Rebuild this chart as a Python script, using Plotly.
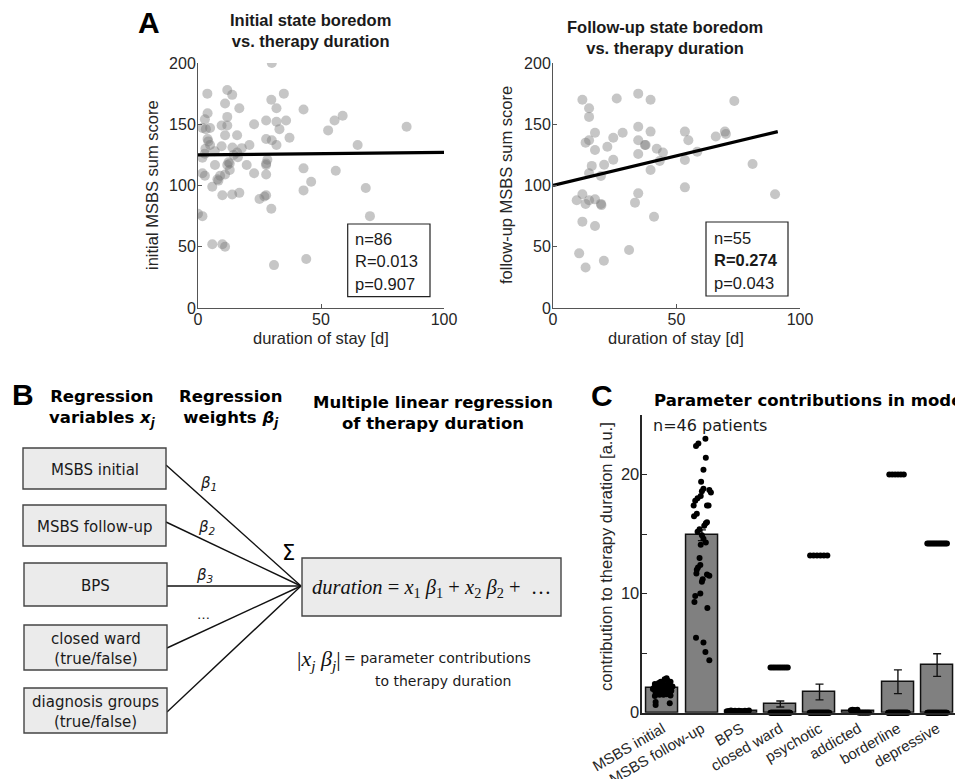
import numpy as np
import plotly.graph_objects as go

# The page body adds an 8px margin, so the figure is sized to fit the window.
OFF = 8
W, H = 963 - OFF, 779 - OFF

# ---------------- Panel A data ----------------
init_dur = [3.8, 11.9, 13.9, 11.0, 16.8, 3.9, 2.8, 11.9, 9.6, 11.9, 1.8, 4.9, 3.2, 22.8,
            27.7, 31.9, 35.8, 33.1, 29.8, 34.9, 31.9, 42.9, 30.0, 3.9, 11.0, 15.9, 27.7,
            30.0, 37.2, 4.9, 9.6, 14.0, 17.8, 20.9, 31.9, 2.8, 6.8, 15.9, 1.8, 16.2, 6.9,
            11.9, 12.9, 19.8, 27.7, 27.7, 42.9, 1.8, 2.8, 12.9, 22.8, 27.7, 11.0, 9.0,
            7.9, 5.8, 46.0, 42.9, 9.9, 13.9, 16.8, 25.0, 27.0, 27.7, 29.8, 0.0, 1.8, 5.8,
            9.9, 11.0, 44.0, 30.9, 58.8, 55.5, 52.9, 84.8, 64.9, 56.0, 68.2, 69.9, 4.2,
            12.4, 28.2, 3.0, 14.5, 8.3]
init_msbs = [175, 178, 174, 167, 163, 159, 154, 156, 149, 149, 147, 147, 146, 150,
             153, 152, 153, 146, 170, 175, 163, 162, 200, 138, 141, 141, 138,
             137, 139, 133, 132, 131, 130.5, 133, 133, 126, 128, 127, 122.7, 123, 116.7,
             116.7, 118, 116.7, 118, 116.7, 114, 110, 108, 112.6, 110, 109, 109, 108,
             105, 99, 103, 96, 92, 92.6, 94, 89, 91, 92, 81, 77, 75, 52,
             52, 50, 40, 35, 157, 153, 145, 148, 133, 112, 98, 75, 136,
             119, 121, 130, 125, 104]
init_fit_x = [0, 100]
init_fit_y = [125.0, 127.0]

fu_dur = [11.9, 25.8, 34.5, 39.5, 14.6, 14.6, 17.0, 28.2, 34.5, 39.5, 13.2, 14.6, 24.4,
          34.5, 37.2, 17.0, 22.0, 42.0, 44.5, 34.5, 43.2, 24.4, 15.7, 20.7, 39.5, 14.6,
          19.4, 11.9, 34.5, 9.6, 13.2, 17.0, 14.6, 19.4, 33.2, 40.9, 11.9, 17.0, 30.8,
          10.6, 20.6, 13.2, 73.4, 53.4, 54.8, 65.9, 69.6, 70.0, 58.4, 53.4, 80.8, 53.4,
          89.9, 37.5, 19.6]
fu_msbs = [170, 171, 175, 170, 163, 156, 143, 143, 148, 144, 135, 137, 139,
           137, 133, 129, 131.7, 130, 127, 125.7, 120, 121, 116, 117, 112.6, 110,
           107.8, 92.8, 93.6, 88, 85, 88.7, 88, 85, 86, 74.5, 70.5, 67, 47.3,
           44.6, 38.6, 33, 169, 144, 137, 140, 144, 142, 127.6, 120.8, 117.6, 98.5,
           92.8, 133, 84]
fu_fit_x = [0, 91]
fu_fit_y = [100.0, 144.0]

stats_init = ["n=86", "R=0.013", "p=0.907"]
stats_fu = ["n=55", "<b>R=0.274</b>", "p=0.043"]

# ---------------- Panel C data ----------------
categories = ["MSBS initial", "MSBS follow-up", "BPS", "closed ward", "psychotic",
              "addicted", "borderline", "depressive"]
bar_means = [2.05, 14.9, 0.15, 0.73, 1.74, 0.12, 2.6, 4.0]
bar_sem = [0.1, 0.45, 0.02, 0.25, 0.66, 0.03, 1.0, 0.95]

msbs_init_vals = [2.9, 2.8, 2.7, 2.6, 2.6, 2.5, 2.5, 2.4, 2.4, 2.3, 2.3, 2.2, 2.2, 2.1,
                  2.1, 2.0, 2.0, 1.95, 1.9, 1.9, 1.85, 1.8, 1.8, 1.75, 1.7, 1.7, 1.65,
                  1.6, 1.6, 1.55, 1.5, 1.5, 1.45, 1.4, 0.9, 0.8, 0.65, 2.0, 2.2]
msbs_init_jit = [0.1, 0.05, 0.12, -0.05, 0.2, -0.1, 0.15, 0.0, -0.2, 0.08, -0.15, 0.2,
                 -0.05, 0.1, -0.22, 0.0, 0.18, -0.12, 0.08, -0.2, 0.22, 0.02, -0.1, 0.14,
                 -0.18, 0.06, -0.04, 0.18, -0.14, 0.1, -0.08, 0.02, 0.2, -0.2, -0.18,
                 0.18, -0.18, -0.25, 0.25]
msbs_fu_vals = [23.0, 22.6, 22.4, 21.4, 20.4, 19.4, 18.8, 18.7, 18.5, 18.2, 18.0, 17.8,
                17.4, 17.4, 17.4, 16.7, 16.5, 15.9, 15.7, 15.4, 15.2, 14.9, 14.6, 14.1,
                13.0, 12.4, 12.2, 11.7, 11.6, 11.5, 11.2, 11.0, 9.8, 9.3, 8.8, 6.3, 5.9,
                5.1, 4.4, 12.0, 14.3, 16.0, 18.6, 10.0]
msbs_fu_jit = [0.09, -0.09, -0.15, 0.1, 0.04, -0.02, 0.04, 0.19, 0.23, -0.03, -0.11,
               -0.17, -0.21, 0.13, 0.17, -0.13, -0.2, 0.1, 0.06, -0.06, -0.11, 0.0, 0.04,
               -0.03, -0.06, -0.04, -0.1, -0.14, 0.13, 0.19, 0.02, 0.0, -0.17, -0.19,
               0.14, -0.15, 0.04, 0.09, 0.19, -0.13, 0.1, 0.13, 0.0, -0.04]
bps_vals = [0.12, 0.15, 0.18, 0.14, 0.16, 0.13, 0.17, 0.15, 0.12, 0.16, 0.14, 0.18]
addicted_vals = [0.2, 0.25, 0.22, 0.18, 0.24, 0.0, 0.0, 0.0, 0.0, 0.0, 0.0, 0.0]
# binary groups: (nonzero level, patients at level, patients at zero)
closed_level, closed_n1, closed_n0 = 3.8, 9, 37
psych_level, psych_n1, psych_n0 = 13.2, 6, 40
border_level, border_n1, border_n0 = 20.0, 6, 40
depr_level, depr_n1, depr_n0 = 14.2, 13, 33

fig = go.Figure()

def P(x):
    return (x - OFF) / W

def Q(y):
    return 1 - (y - OFF) / H

scatter_col = "rgba(120,120,120,0.42)"
# Panel A left
fig.add_trace(go.Scatter(x=init_dur, y=init_msbs, mode="markers", xaxis="x", yaxis="y",
                         marker=dict(size=10, color=scatter_col, line=dict(width=0)),
                         showlegend=False))
fig.add_trace(go.Scatter(x=init_fit_x, y=init_fit_y, mode="lines", xaxis="x", yaxis="y",
                         line=dict(color="black", width=3.2), showlegend=False))
# Panel A right
fig.add_trace(go.Scatter(x=fu_dur, y=fu_msbs, mode="markers", xaxis="x2", yaxis="y2",
                         marker=dict(size=10, color=scatter_col, line=dict(width=0)),
                         showlegend=False))
fig.add_trace(go.Scatter(x=fu_fit_x, y=fu_fit_y, mode="lines", xaxis="x2", yaxis="y2",
                         line=dict(color="black", width=3.2), showlegend=False))

# Panel C bars
cat_idx = list(range(len(categories)))
fig.add_trace(go.Bar(x=cat_idx, y=bar_means, xaxis="x3", yaxis="y3", width=0.82,
                     marker=dict(color="#808080", line=dict(color="#111111", width=1.5)),
                     error_y=dict(type="data", array=bar_sem, color="#111111",
                                  thickness=1.4, width=4),
                     showlegend=False))

dot_x, dot_y = [], []
for v, j in zip(msbs_init_vals, msbs_init_jit):
    dot_x.append(0 + j); dot_y.append(v)
for v, j in zip(msbs_fu_vals, msbs_fu_jit):
    dot_x.append(1 + j); dot_y.append(v)
for k, v in enumerate(bps_vals):
    dot_x.append(2 + np.linspace(-0.36, 0.2, len(bps_vals))[k]); dot_y.append(v)
for k, v in enumerate(addicted_vals):
    dot_x.append(5 + np.linspace(-0.2, 0.26, len(addicted_vals))[k]); dot_y.append(v)

def streak(ci, level, n1, n0, lo, hi):
    for o in np.linspace(lo, hi, n1):
        dot_x.append(ci + o); dot_y.append(level)
    for o in np.linspace(-0.25, 0.25, n0):
        dot_x.append(ci + o); dot_y.append(0.0)

streak(3, closed_level, closed_n1, closed_n0, -0.25, 0.19)
streak(4, psych_level, psych_n1, psych_n0, -0.24, 0.2)
streak(6, border_level, border_n1, border_n0, -0.22, 0.15)
streak(7, depr_level, depr_n1, depr_n0, -0.25, 0.25)

fig.add_trace(go.Scatter(x=dot_x, y=dot_y, mode="markers", xaxis="x3", yaxis="y3",
                         marker=dict(size=6, color="black"), showlegend=False,
                         cliponaxis=False))

AX = "#555555"
TF = dict(family="Liberation Sans, Arial", size=16, color="#262626")
axA = dict(showline=True, linecolor=AX, linewidth=1, ticks="inside", ticklen=4,
           tickcolor=AX, tickfont=TF, showgrid=False, zeroline=False, mirror=False,
           automargin=False)

fig.update_layout(
    width=W, height=H, margin=dict(l=0, r=0, t=0, b=0, pad=0),
    paper_bgcolor="white", plot_bgcolor="white", bargap=0,
    xaxis=dict(domain=[P(198), P(444)], range=[0, 100], tickvals=[0, 50, 100],
               anchor="y", ticklabelstandoff=-3, **axA),
    yaxis=dict(domain=[Q(308), Q(63)], range=[0, 200], tickvals=[0, 50, 100, 150, 200],
               anchor="x", ticklabelstandoff=-2, **axA),
    xaxis2=dict(domain=[P(553), P(800)], range=[0, 100], tickvals=[0, 50, 100],
                anchor="y2", ticklabelstandoff=-3, **axA),
    yaxis2=dict(domain=[Q(308), Q(63)], range=[0, 200], tickvals=[0, 50, 100, 150, 200],
                anchor="x2", ticklabelstandoff=-2, **axA),
    xaxis3=dict(domain=[P(642.3), 1.0], range=[-0.52, 7.66], tickvals=cat_idx,
                ticktext=categories, tickangle=-30, showline=True, linecolor="#262626",
                linewidth=1.5, ticks="", tickfont=dict(family="Liberation Sans, Arial",
                                                        size=15, color="#262626"),
                showgrid=False, zeroline=False, anchor="y3", automargin=False),
    yaxis3=dict(domain=[Q(712.7), Q(415)], range=[0, 25], tickvals=[0, 10, 20],
                showline=True, linecolor="#262626", linewidth=1.5, ticks="inside",
                ticklen=5, tickcolor="#262626",
                minor=dict(tickvals=[5, 15, 25], ticks="inside", ticklen=5,
                           tickcolor="#262626"),
                tickfont=dict(family="Liberation Sans, Arial", size=16.5, color="#262626"),
                showgrid=False, zeroline=False, anchor="x3", automargin=False,
                ticklabelstandoff=-2),
)

ann = []
def A(text, x, y, size=15, family="Liberation Sans, Arial", color="#1a1a1a",
      xanchor="center", yanchor="middle", angle=0, align="center"):
    ann.append(dict(text=text, x=P(x), y=Q(y), xref="paper", yref="paper",
                    showarrow=False, xanchor=xanchor, yanchor=yanchor, textangle=angle,
                    align=align, font=dict(family=family, size=size, color=color)))

SANS = "Liberation Sans, Arial"
VER = "DejaVu Sans, Verdana"
SERIF = "Liberation Serif, Cambria"

# Panel A texts
A("<b>A</b>", 148.5, 22.5, size=30, family=SANS, color="black")
A("<b>Initial state boredom<br>vs. therapy duration</b>", 310, 30, size=16.5, family=SANS)
A("<b>Follow-up state boredom<br>vs. therapy duration</b>", 665, 37.5, size=16.5, family=SANS)
A("initial MSBS sum score", 152, 185, size=16.5, family=SANS, angle=-90, color="#262626")
A("follow-up MSBS sum score", 506, 185, size=16.5, family=SANS, angle=-90, color="#262626")
A("duration of stay [d]", 321, 338, size=16.5, family=SANS, color="#262626")
A("duration of stay [d]", 676, 338, size=16.5, family=SANS, color="#262626")
shapes = []
shapes.append(dict(type="rect", xref="paper", yref="paper", x0=P(347.7), y0=Q(224),
                   x1=P(430), y1=Q(296.7), line=dict(color="#222222", width=1.2)))
shapes.append(dict(type="rect", xref="paper", yref="paper", x0=P(706), y0=Q(222),
                   x1=P(788), y1=Q(296), line=dict(color="#222222", width=1.2)))
for i, t in enumerate(stats_init):
    A(t, 353, [239, 261, 284][i], size=16.5, family=SANS, xanchor="left", color="#1a1a1a")
for i, t in enumerate(stats_fu):
    A(t, 712, [238, 260, 283][i], size=16.5, family=SANS, xanchor="left", color="#1a1a1a")

# Panel B texts
A("<b>B</b>", 22.5, 394, size=30, family=SANS, color="black")
A("<b>Regression<br>variables <i>x<sub>j</sub></i></b>", 102, 408, size=16.5, family=VER,
  color="black")
A("<b>Regression<br>weights <i>β<sub>j</sub></i></b>", 230, 408, size=16.5, family=VER,
  color="black")
A("<b>Multiple linear regression<br>of therapy duration</b>", 433, 413, size=16.5,
  family=VER, color="black")

boxes = [(23, 448, 166, 489, "MSBS initial"),
         (23, 505, 166, 546, "MSBS follow-up"),
         (24, 563, 167, 606, "BPS"),
         (24, 625, 167, 670, "closed ward<br>(true/false)"),
         (24, 688, 167, 733, "diagnosis groups<br>(true/false)")]
conv = (301, 586)
starts = [(166, 465), (166, 522), (167, 586), (167, 648), (167, 712)]
for (x0, y0) in starts:
    shapes.append(dict(type="line", xref="paper", yref="paper", x0=P(x0), y0=Q(y0),
                       x1=P(conv[0]), y1=Q(conv[1]), line=dict(color="#111111", width=1.4)))
for x0, y0, x1, y1, t in boxes:
    shapes.append(dict(type="rect", xref="paper", yref="paper", x0=P(x0), y0=Q(y0),
                       x1=P(x1), y1=Q(y1), fillcolor="#ebebeb",
                       line=dict(color="#444444", width=1.4), layer="above"))
    A(t, (x0 + x1) / 2, (y0 + y1) / 2 + 1, size=15, family=VER, color="#1a1a1a")
shapes.append(dict(type="rect", xref="paper", yref="paper", x0=P(302), y0=Q(558),
                   x1=P(561), y1=Q(616), fillcolor="#ebebeb",
                   line=dict(color="#444444", width=1.4), layer="above"))
A("<i>duration</i> = <i>x</i><sub>1</sub> <i>β</i><sub>1</sub> + <i>x</i><sub>2</sub> "
  "<i>β</i><sub>2</sub> +  …", 431, 588, size=20.5, family=SERIF, color="#111111")

A("<i>β<sub>1</sub></i>", 208, 483, size=15, family=VER)
A("<i>β<sub>2</sub></i>", 207, 527, size=15, family=VER)
A("<i>β<sub>3</sub></i>", 204, 575, size=15, family=VER)
A("…", 203, 614, size=13, family=VER)
A("Σ", 288, 553, size=21, family=VER, color="black")
A("|<i>x<sub>j</sub> β<sub>j</sub></i>|", 319, 660, size=22, family=SERIF, color="#111111")
A("= parameter contributions", 342, 658, size=14, family=VER, xanchor="left")
A("to therapy duration", 443, 681, size=14, family=VER)

# Panel C texts
A("<b>C</b>", 601.5, 395, size=30, family=SANS, color="black")
A("<b>Parameter contributions in model</b>", 652, 400, size=16.5, family=VER,
  xanchor="left", color="black")
A("n=46 patients", 651, 426, size=16, family=VER, xanchor="left", color="#1a1a1a")
A("contribution to therapy duration [a.u.]", 606, 557, size=16.5, family=SANS,
  angle=-90, color="#262626")

fig.update_layout(annotations=ann, shapes=shapes)
fig.write_html("out.html")
